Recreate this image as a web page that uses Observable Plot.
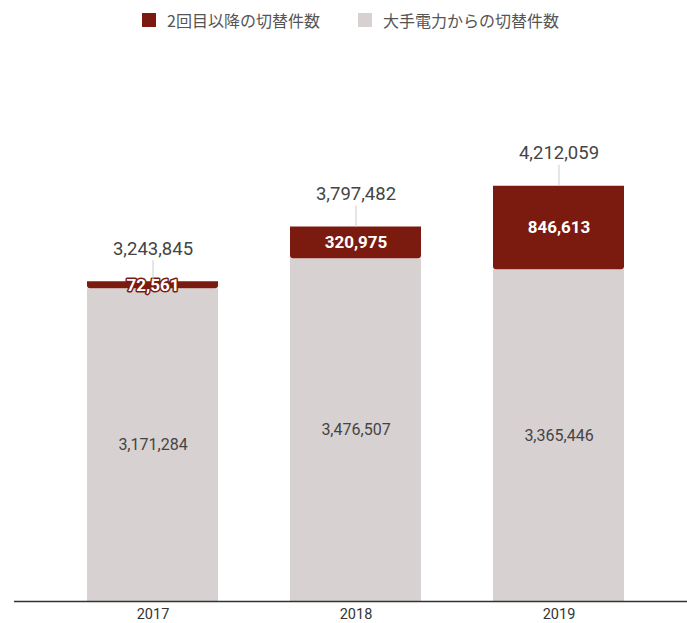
<!DOCTYPE html>
<html>
<head>
<meta charset="utf-8">
<script src="https://cdn.jsdelivr.net/npm/d3@7"></script>
<script src="https://cdn.jsdelivr.net/npm/@observablehq/plot@0.6"></script>
<style>
  body { margin: 0; background: #fff; font-family: Roboto, "Noto Sans CJK JP", sans-serif; }
  #legend { height: 30px; position: relative; font-family: "Noto Sans CJK JP", Roboto, sans-serif; font-size: 16px; color: #555; }
  .item { position: absolute; top: 8px; display: flex; align-items: center; white-space: nowrap; line-height: 24px; }
  .sw { width: 14px; height: 14px; margin-right: 11px; display: inline-block; }
</style>
</head>
<body>
<div id="legend"></div>
<div id="chart"></div>
<script>
const years = ["2017", "2018", "2019"];
const fromMajor = [3171284, 3476507, 3365446];   // 大手電力からの切替件数
const repeat = [72561, 320975, 846613];          // 2回目以降の切替件数
const totals = [3243845, 3797482, 4212059];
const seriesNames = ["2回目以降の切替件数", "大手電力からの切替件数"];
const colors = ["#7b1a0e", "#d7d1d1"];

const table = years.map((y, i) => ({year: y, fromMajor: fromMajor[i], repeat: repeat[i], total: totals[i]}));
const fmt = d3.format(",");

const legend = document.getElementById("legend");
[[seriesNames[0], colors[0], 142], [seriesNames[1], colors[1], 358]].forEach(([name, c, left]) => {
  const it = document.createElement("div");
  it.className = "item";
  it.style.left = left + "px";
  it.innerHTML = `<span class="sw" style="background:${c}"></span><span>${name}</span>`;
  legend.appendChild(it);
});

const svgHeight = 593;
const base = 571;
const pxPerMillion = 98.6;

const chart = Plot.plot({
  width: 687,
  height: svgHeight,
  marginLeft: 14,
  marginRight: 0,
  marginTop: 0,
  marginBottom: svgHeight - base,
  style: {fontFamily: "Roboto, sans-serif", background: "#fff"},
  x: {domain: years, range: [14, 698], paddingInner: 0.353, paddingOuter: 0.353, label: null},
  y: {domain: [0, 5e6], range: [base, base - 5 * pxPerMillion], axis: null},
  marks: [
    Plot.barY(table, {x: "year", y: "fromMajor", fill: colors[1]}),
    Plot.barY(table, {x: "year", y1: "fromMajor", y2: "total", fill: colors[0], rx1y2: 3, rx2y2: 3}),
    Plot.text(table, {x: "year", y: d => d.fromMajor / 2, text: d => fmt(d.fromMajor), fill: "#444", fontSize: 16}),
    Plot.text(table, {x: "year", y: d => d.fromMajor + d.repeat / 2, text: d => fmt(d.repeat), fill: "#fff", stroke: colors[0], strokeWidth: 3, fontSize: 17, fontWeight: "bold"}),
    Plot.ruleX(table, {x: "year", y1: "total", y2: "total", insetTop: -21, insetBottom: 0, stroke: "#ccc", strokeWidth: 1}),
    Plot.text(table, {x: "year", y: "total", text: d => fmt(d.total), dy: -33, fill: "#444", fontSize: 18.5}),
    Plot.ruleY([0], {stroke: "#333", strokeWidth: 1.5}),
    Plot.axisX({tickSize: 0, tickPadding: 7, fontSize: 14.5, color: "#333", label: null})
  ]
});
document.getElementById("chart").appendChild(chart);
</script>
</body>
</html>
